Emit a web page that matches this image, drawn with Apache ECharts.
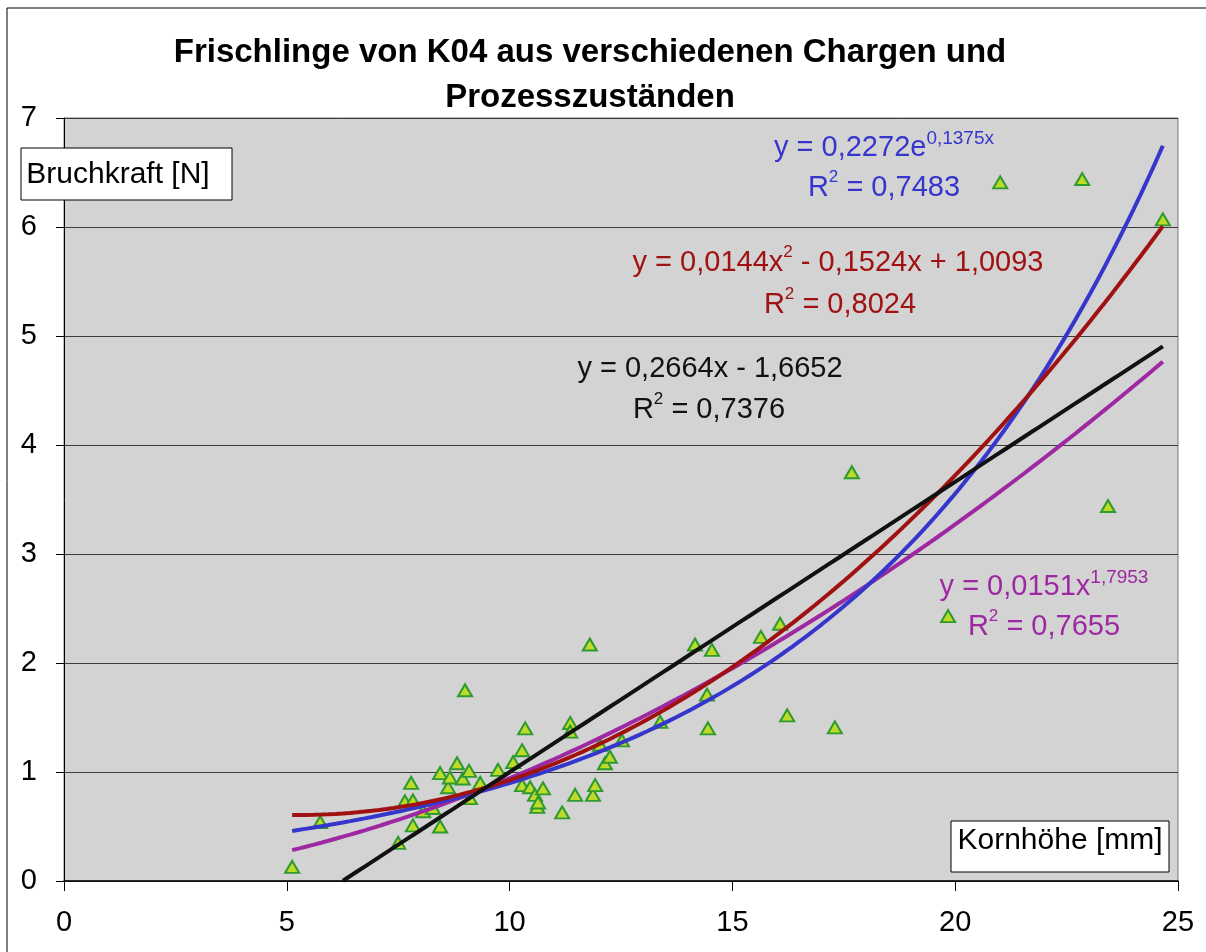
<!DOCTYPE html>
<html>
<head>
<meta charset="utf-8">
<title>Frischlinge von K04</title>
<script src="https://cdn.jsdelivr.net/npm/echarts@6/dist/echarts.min.js"></script>
<style>
  html, body { margin: 0; padding: 0; background: #ffffff; }
  #chart { width: 1206px; height: 952px; }
</style>
</head>
<body>
<div id="chart"></div>
<script>
// Kornhöhe [mm] of each measured Frischling
const kornhoehe = [
  5.12, 5.75, 7.50, 7.79, 7.65, 7.83, 7.83, 8.06, 8.28, 8.44,
  8.44, 8.62, 8.66, 8.82, 8.95, 9.09, 9.11, 9.00, 9.34, 9.74,
  10.08, 10.28, 10.35, 10.28, 10.46, 10.57, 10.75, 10.62, 10.64, 11.18,
  11.36, 11.36, 11.47, 11.80, 11.87, 11.92, 12.03, 12.14, 12.25, 12.52,
  13.38, 14.16, 14.43, 14.45, 14.54, 15.64, 16.07, 16.23, 17.30, 17.68,
  19.84, 21.01, 22.85, 23.43, 24.66
];
// Bruchkraft [N] for the same grains
const bruchkraft = [
  0.13, 0.54, 0.35, 0.90, 0.73, 0.74, 0.51, 0.64, 0.67, 0.50,
  0.99, 0.86, 0.95, 1.08, 0.94, 1.01, 0.76, 1.75, 0.90, 1.02,
  1.09, 1.20, 1.40, 0.88, 0.86, 0.79, 0.85, 0.68, 0.72, 0.63,
  1.45, 1.37, 0.79, 2.17, 0.79, 0.88, 1.25, 1.08, 1.14, 1.29,
  1.46, 2.17, 1.71, 1.40, 2.12, 2.24, 2.36, 1.52, 1.41, 3.75,
  2.43, 6.41, 6.44, 3.44, 6.07
];

// Trend line coefficients (as printed in the equations)
const linearFit = [0.2664, -1.6652];          // y = a x + b
const expFit = [0.2272, 0.1375];              // y = a e^(b x)
const polyFit = [0.0144, -0.1524, 1.0093];    // y = a x² + b x + c
const powerFit = [0.0151, 1.7953];            // y = a x^b
const rSquared = { linear: '0,7376', exp: '0,7483', poly: '0,8024', power: '0,7655' };

const xTicks = [0, 5, 10, 15, 20, 25];

const points = kornhoehe.map((x, i) => [x, bruchkraft[i]]);
const xMin = Math.min(...kornhoehe);
const xMax = Math.max(...kornhoehe);

// evaluate a fitted equation across the measured Kornhöhe range
function curve(fn) {
  const out = [];
  const steps = 120;
  for (let i = 0; i <= steps; i++) {
    const x = xMin + (xMax - xMin) * i / steps;
    out.push([x, fn(x)]);
  }
  return out;
}

const linearLine = curve(x => linearFit[0] * x + linearFit[1]).filter(p => p[1] >= 0);
const expLine = curve(x => expFit[0] * Math.exp(expFit[1] * x));
const polyLine = curve(x => polyFit[0] * x * x + polyFit[1] * x + polyFit[2]);
const powerLine = curve(x => powerFit[0] * Math.pow(x, powerFit[1]));

const FONT = '"Liberation Sans", Arial, sans-serif';
const fmt = v => String(v).replace('.', ',');

const chart = echarts.init(document.getElementById('chart'), null, { renderer: 'canvas' });

// n: normal text, e: raised exponent, q: superscript "2"
function richStyles(color) {
  return {
    n: { fontSize: 29, fontFamily: FONT, color: color, lineHeight: 38, verticalAlign: 'middle' },
    e: { fontSize: 19, fontFamily: FONT, color: color, lineHeight: 13, verticalAlign: 'top' },
    q: { fontSize: 17, fontFamily: FONT, color: color, lineHeight: 29, verticalAlign: 'top' }
  };
}

function eqText(x, y, color, text) {
  return {
    type: 'text', x: x, y: y, z: 100,
    style: {
      text: text, align: 'center', verticalAlign: 'middle',
      fill: color, font: '29px ' + FONT,
      rich: richStyles(color)
    }
  };
}

const blue = '#3636cc';
const red = '#a01212';
const purple = '#9e28a2';
const black = '#111111';

chart.setOption({
  backgroundColor: '#ffffff',
  animation: false,
  title: {
    text: 'Frischlinge von K04 aus verschiedenen Chargen und\nProzesszuständen',
    left: 585, top: 25, textAlign: 'center',
    textStyle: { fontFamily: FONT, fontWeight: 'bold', fontSize: 33, color: '#000', lineHeight: 45 }
  },
  grid: {
    left: 64, right: 28, top: 118, bottom: 71,
    show: true, backgroundColor: '#d3d3d3', borderColor: '#7a7a7a', borderWidth: 1
  },
  xAxis: {
    type: 'value', min: 0, max: 25, interval: 5,
    axisLine: { show: true, onZero: false, lineStyle: { color: '#000', width: 1.5 } },
    axisTick: { show: true, length: 10, lineStyle: { color: '#000', width: 1 } },
    axisLabel: {
      margin: 27, fontFamily: FONT, fontSize: 29, color: '#000',
      formatter: v => xTicks.includes(v) ? String(v) : ''
    },
    splitLine: { show: false }
  },
  yAxis: {
    type: 'value', min: 0, max: 7, interval: 1,
    axisLine: { show: true, onZero: false, lineStyle: { color: '#000', width: 1 } },
    axisTick: { show: true, length: 8, lineStyle: { color: '#000', width: 1 } },
    axisLabel: { margin: 27, fontFamily: FONT, fontSize: 29, color: '#000' },
    splitLine: { show: true, lineStyle: { color: '#3c3c3c', width: 1.2 } }
  },
  series: [
    {
      type: 'scatter', data: points, symbol: 'triangle', symbolSize: [14, 12], z: 2,
      itemStyle: { color: '#bedb2a', borderColor: '#2f9a2f', borderWidth: 2, opacity: 1 }
    },
    {
      type: 'line', data: powerLine, showSymbol: false, z: 3,
      lineStyle: { color: purple, width: 4 }
    },
    {
      type: 'line', data: expLine, showSymbol: false, z: 4,
      lineStyle: { color: blue, width: 4 }
    },
    {
      type: 'line', data: polyLine, showSymbol: false, z: 5,
      lineStyle: { color: red, width: 4 }
    },
    {
      type: 'line', data: linearLine, showSymbol: false, z: 6,
      lineStyle: { color: black, width: 4 }
    }
  ],
  graphic: [
    // outer chart frame
    { type: 'rect', shape: { x: 7, y: 8, width: 1240, height: 990 }, z: -10, silent: true,
      style: { fill: 'none', stroke: '#000', lineWidth: 1 } },
    // axis title boxes
    { type: 'rect', shape: { x: 21, y: 148, width: 211, height: 52 }, z: 90,
      style: { fill: '#fff', stroke: '#000', lineWidth: 1 } },
    { type: 'text', x: 118, y: 175, z: 91,
      style: { text: 'Bruchkraft [N]', align: 'center', verticalAlign: 'middle', fill: '#000', font: '30px ' + FONT } },
    { type: 'rect', shape: { x: 951, y: 821, width: 218, height: 51 }, z: 90,
      style: { fill: '#fff', stroke: '#000', lineWidth: 1 } },
    { type: 'text', x: 1060, y: 841, z: 91,
      style: { text: 'Kornhöhe [mm]', align: 'center', verticalAlign: 'middle', fill: '#000', font: '30px ' + FONT } },

    // exponential fit
    eqText(884, 148, blue, '{n|y = ' + fmt(expFit[0]) + 'e}{e|' + fmt(expFit[1]) + 'x}'),
    eqText(884, 188, blue, '{n|R}{q|2}{n| = ' + rSquared.exp + '}'),
    // polynomial fit
    eqText(838, 263, red, '{n|y = ' + fmt(polyFit[0]) + 'x}{q|2}{n| - ' + fmt(-polyFit[1]) + 'x + ' + fmt(polyFit[2]) + '}'),
    eqText(840, 305, red, '{n|R}{q|2}{n| = ' + rSquared.poly + '}'),
    // linear fit
    eqText(710, 369, black, '{n|y = ' + fmt(linearFit[0]) + 'x - ' + fmt(-linearFit[1]) + '}'),
    eqText(709, 410, black, '{n|R}{q|2}{n| = ' + rSquared.linear + '}'),
    // power fit
    eqText(1044, 587, purple, '{n|y = ' + fmt(powerFit[0]) + 'x}{e|' + fmt(powerFit[1]) + '}'),
    eqText(1044, 627, purple, '{n|R}{q|2}{n| = ' + rSquared.power + '}')
  ]
});
</script>
</body>
</html>
